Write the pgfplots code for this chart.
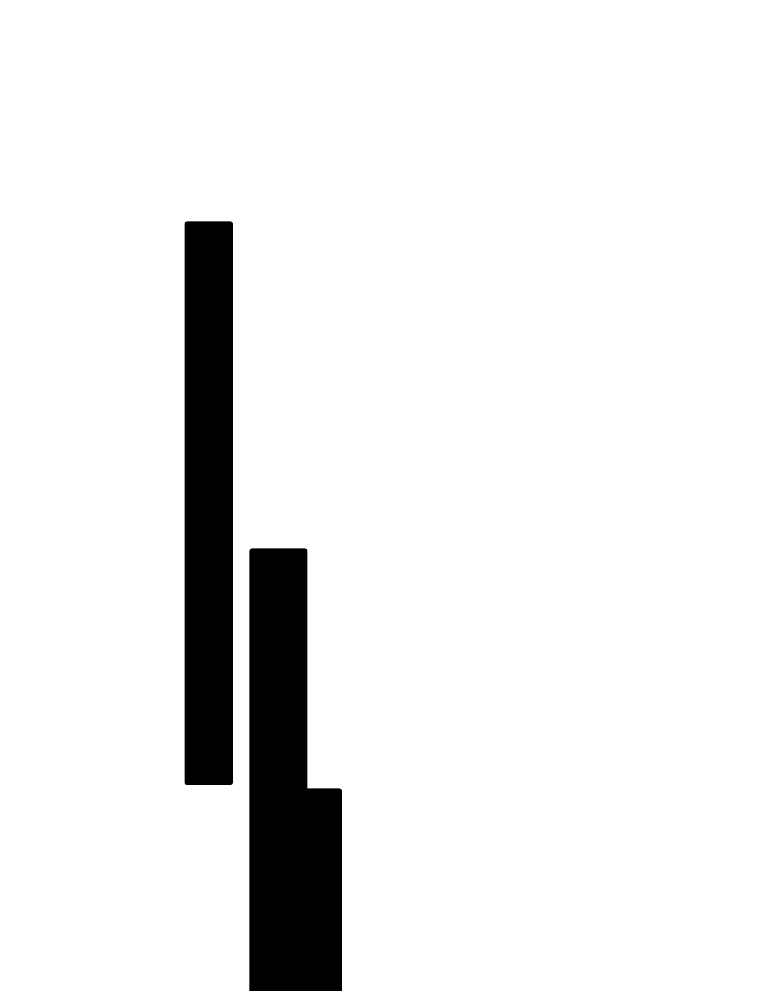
\documentclass[border=0pt]{standalone}
\usepackage{pgfplots}
\pgfplotsset{compat=1.18}
\begin{document}
\begin{tikzpicture}
    \begin{axis}[
        scale only axis,
        width=7.6cm,
        height=9.91cm,
        xmin=0, xmax=760,
        ymin=0, ymax=991,
        hide axis,
        clip=true,
    ]
% bar 1 (floating)
\addplot[fill=black, draw=none, rounded corners=0.25mm] coordinates {
        (184.5,206) (233,206) (233,769.5) (184.5,769.5)} --cycle;

% bar 3 (drawn first, bar 2 on top)
\addplot[fill=black, draw=none, rounded corners=0.25mm] coordinates {
        (303,-20) (342,-20) (342,202.5) (303,202.5)} --cycle;

% bar 2
\addplot[fill=black, draw=none, rounded corners=0.25mm] coordinates {
        (249.5,-20) (307.5,-20) (307.5,442.5) (249.5,442.5)} --cycle;

    \end{axis}
    \pgfresetboundingbox
    \path[use as bounding box] (0,0) rectangle (7.6cm,9.91cm);
\end{tikzpicture}
\end{document}
